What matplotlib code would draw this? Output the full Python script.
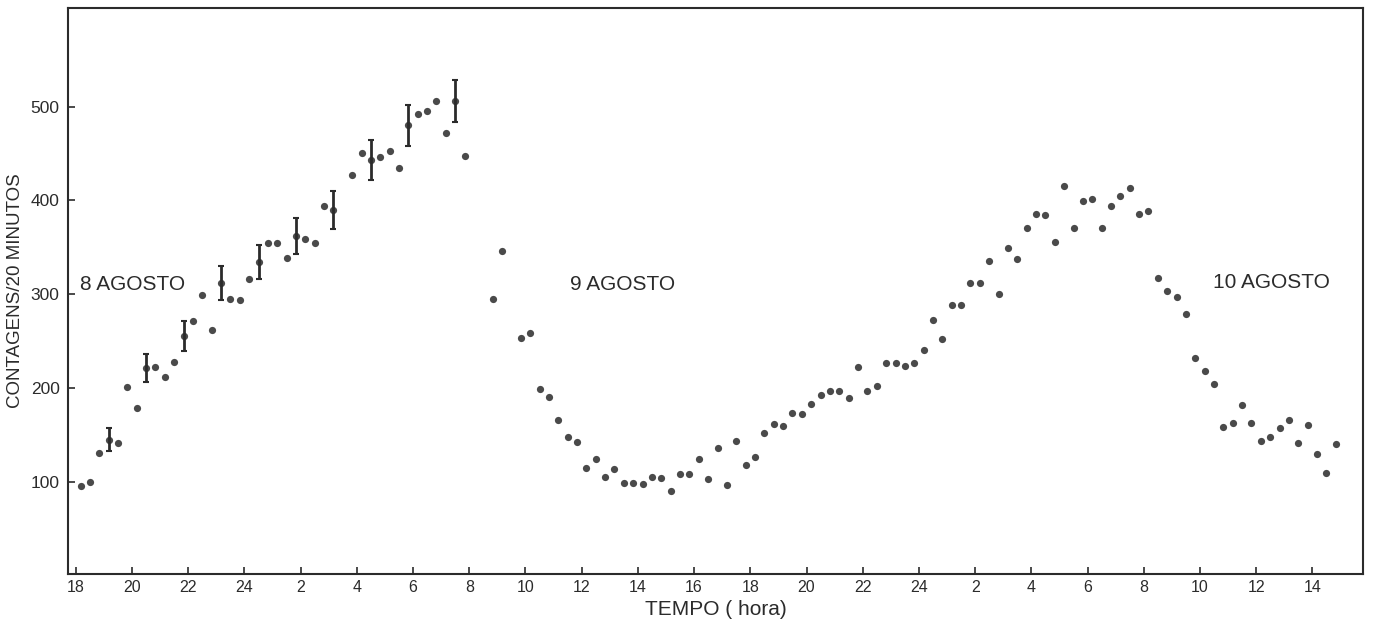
import matplotlib.pyplot as plt
import numpy as np

plt.rcParams['font.family'] = ['Liberation Sans', 'DejaVu Sans']

# counts per 20-minute bin, starting 18:00 on 8 August (nan = no point)
counts = [96, 100, 131, 145, 142, 201, 179, 221, 223, 212,
          228, 256, 271, 299, 262, 312, 295, 294, 316, 334,
          355, 355, 339, 362, 359, 355, 394, 390, np.nan, 427,
          450, 443, 446, 453, 435, 480, 492, 495, 506, 472,
          506, 447, np.nan, np.nan, 295, 346, np.nan, 253, 259, 199,
          191, 166, 148, 143, 115, 124, 105, 114, 99, 99,
          98, 105, 104, 90, 108, 108, 124, 103, 136, 97,
          144, 118, 127, 152, 162, 160, 174, 172, 183, 193,
          197, 197, 189, 222, 197, 202, 227, 227, 224, 227,
          241, 273, 252, 289, 289, 312, 312, 335, 300, 349,
          338, 371, 386, 384, 356, 415, 371, 399, 401, 371,
          394, 405, 413, 386, 389, 317, 304, 297, 279, 232,
          218, 204, 159, 163, 182, 163, 144, 148, 157, 166,
          141, 161, 130, 110, 140]

# bins that carry an error bar, and the half-length of the bar
err_bins = [3, 7, 11, 15, 19, 23, 27, 31, 35, 40]
err_half = [12, 15, 16, 18, 18, 19, 20, 21, 22, 22]

day_labels = ['8 AGOSTO', '9 AGOSTO', '10 AGOSTO']
day_label_pos = [(18.15, 310), (35.6, 310), (58.45, 313)]

counts = np.array(counts, dtype=float)
hours = 18 + 1 / 6 + np.arange(len(counts)) / 3  # bin centres, continuous hours

ink = '#2b2b2b'

fig = plt.figure(figsize=(13.73, 6.23), dpi=100)
ax = fig.add_axes([0.0495, 0.0787, 0.9432, 0.9085])

ax.plot(hours, counts, 'o', color='#4a4a4a', markersize=5.2, markeredgewidth=0)
ax.errorbar(hours[err_bins], counts[err_bins], yerr=err_half, fmt='none',
            ecolor=ink, elinewidth=2, capsize=2, capthick=1.5)

for text, (x, y) in zip(day_labels, day_label_pos):
    ax.text(x, y, text, fontsize=15, color=ink, ha='left', va='center')

ax.set_xlim(17.72, 63.8)
ax.set_ylim(2, 605)

xt = np.arange(18, 63, 2)
ax.set_xticks(xt)
ax.set_xticklabels([str(int(t) % 24 if t % 24 else 24) for t in xt])
ax.set_yticks([100, 200, 300, 400, 500])

ax.tick_params(axis='x', direction='in', length=5, width=1.2, colors=ink,
               labelsize=11.5, pad=4)
ax.tick_params(axis='y', direction='in', length=5, width=1.2, colors=ink,
               labelsize=12.5, pad=6)
for s in ax.spines.values():
    s.set_linewidth(1.5)
    s.set_color(ink)

ax.set_xlabel('TEMPO ( hora)', fontsize=15, color=ink, labelpad=4)
ax.set_ylabel('CONTAGENS/20 MINUTOS', fontsize=13.5, color=ink, labelpad=5)

plt.savefig('out.png', dpi=100)
